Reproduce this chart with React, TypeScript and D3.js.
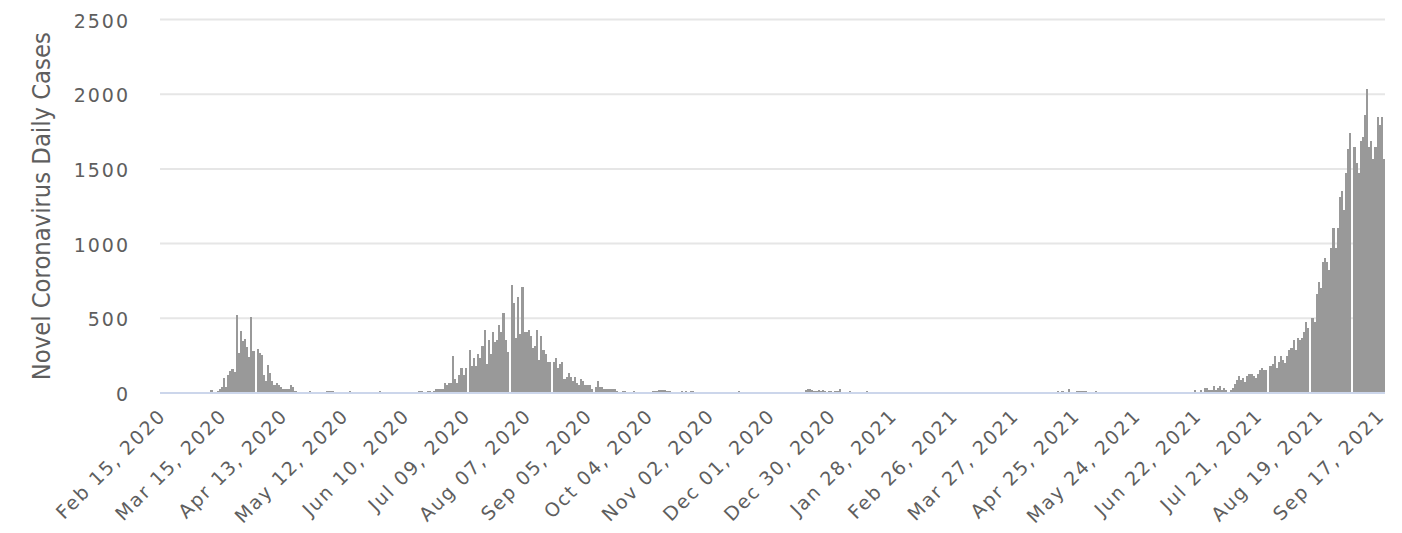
import React from "react";
import * as d3 from "d3";

const firstDay = "2020-02-15";
const lastDay = "2021-09-19";

const yTicks = [0, 500, 1000, 1500, 2000, 2500];
const xTickLabels = [
  "Feb 15, 2020", "Mar 15, 2020", "Apr 13, 2020", "May 12, 2020", "Jun 10, 2020",
  "Jul 09, 2020", "Aug 07, 2020", "Sep 05, 2020", "Oct 04, 2020", "Nov 02, 2020",
  "Dec 01, 2020", "Dec 30, 2020", "Jan 28, 2021", "Feb 26, 2021", "Mar 27, 2021",
  "Apr 25, 2021", "May 24, 2021", "Jun 22, 2021", "Jul 21, 2021", "Aug 19, 2021",
  "Sep 17, 2021",
];

// daily cases, every run starts on the date above it
const spring2020Start = "2020-03-10";
const spring2020 = [
  18, 0, 0, 15, 27, 42, 100, 42, 123, 150, 163, 140, 525, 270, 418, 350, 364, 310,
  243, 511, 284, 0, 297, 270, 257, 123, 83, 190, 136, 83, 56, 69, 56, 40, 27, 27,
  27, 27, 54, 40, 13,
];

const summer2020Start = "2020-06-17";
const summer2020 = [
  14, 14, 0, 0, 14, 14, 0, 14, 27, 27, 27, 27,
  68, 55, 68, 68, 247, 96, 68, 123, 164, 123, 164, 0,
  288, 178, 233, 178, 260, 233, 315, 425, 192, 356, 260, 411, 342, 356, 452, 411, 534, 356, 274, 0,
  726, 603, 370, 644, 397, 712,
  411, 411, 425, 384, 301, 315, 425, 219, 384, 288, 260, 205, 205, 0,
  205, 233, 164, 192, 205, 96, 110, 137, 110, 82, 110, 68, 55, 96, 82, 55, 55, 55, 27, 0,
  41, 82, 41, 41, 27, 27, 27, 27, 27, 27, 14, 0, 0, 14, 14, 0, 0, 0, 14,
];

const winter2020Start = "2020-12-18";
const winter2020 = [20, 29, 29, 20, 13, 13, 20, 13, 20, 13, 0, 13, 13, 0, 13, 13, 27];

const summer2021Start = "2021-06-21";
const summer2021 = [
  18, 0, 0, 18, 0, 32, 32, 18, 18, 45, 18, 32, 45, 18, 32, 18, 0, 18, 32, 59,
  86, 113, 86, 99, 72, 113, 127, 127, 113, 99, 127, 154, 167, 154, 154, 0,
  181, 194, 249, 167, 208, 245, 218, 204, 245, 285, 299, 352, 285, 366, 352, 366, 406, 474, 433, 0,
  501, 474, 662, 743, 703, 878, 905, 878, 824, 972, 1107, 972, 1107, 1309, 1349, 1228, 1470, 1632, 1740, 0,
  1646, 1538, 1470, 1686, 1713, 1861, 2036, 1646, 1686, 1565, 1646, 1848, 1794, 1848, 1565,
];

// lone small bars in the quiet months
const scattered: [string, number][] = [
  ["2020-04-26", 13], ["2020-05-04", 13], ["2020-05-05", 13], ["2020-05-06", 13],
  ["2020-05-07", 13], ["2020-05-15", 13], ["2020-05-29", 13],
  ["2020-10-06", 13], ["2020-10-07", 13], ["2020-10-08", 13], ["2020-10-09", 20],
  ["2020-10-10", 20], ["2020-10-11", 20], ["2020-10-12", 20], ["2020-10-13", 13],
  ["2020-10-14", 13], ["2020-10-20", 13], ["2020-10-22", 13], ["2020-10-24", 13],
  ["2020-10-25", 13], ["2020-11-16", 13], ["2021-01-08", 13], ["2021-01-16", 13],
  ["2021-04-17", 13], ["2021-04-19", 13], ["2021-04-22", 27], ["2021-04-26", 16],
  ["2021-04-27", 16], ["2021-04-28", 16], ["2021-04-29", 16], ["2021-04-30", 16],
  ["2021-05-05", 13],
];

const width = 1402;
const height = 533;
const margin = { top: 19.5, right: 17, bottom: 140, left: 160 };
const tickFont = "'DejaVu Sans', Verdana, sans-serif";

const App = () => {
  const parse = d3.timeParse("%Y-%m-%d");
  const start = parse(firstDay) as Date;
  const days = d3.timeDay.range(start, d3.timeDay.offset(parse(lastDay) as Date, 1));
  const cases = days.map(() => 0);

  const put = (from: string, values: number[]) => {
    const i0 = d3.timeDay.count(start, parse(from) as Date);
    values.forEach((v, k) => { cases[i0 + k] = v; });
  };
  put(spring2020Start, spring2020);
  put(summer2020Start, summer2020);
  put(winter2020Start, winter2020);
  put(summer2021Start, summer2021);
  scattered.forEach(([d, v]) => put(d, [v]));

  const x = d3.scaleBand<number>()
    .domain(d3.range(days.length))
    .range([margin.left, width - margin.right]);
  const y = d3.scaleLinear()
    .domain([0, 2500])
    .range([height - margin.bottom, margin.top]);

  const parseLabel = d3.timeParse("%b %d, %Y");
  const ticks = xTickLabels.map((t) => ({
    label: t,
    i: d3.timeDay.count(start, parseLabel(t) as Date),
  }));

  const x0 = margin.left;
  const x1 = width - margin.right;

  return (
    <div style={{ position: "absolute", left: 0, top: 0 }}>
      <svg width={width} height={height} style={{ display: "block", background: "#fff" }}>
        {yTicks.filter((t) => t > 0).map((t) => (
          <line key={t} x1={x0} x2={x1} y1={y(t)} y2={y(t)} stroke="#e6e6e6" strokeWidth={2} />
        ))}
        <g shapeRendering="crispEdges">
          {cases.map((c, i) => c > 0 && (
            <rect key={i} x={x(i)} width={x.bandwidth()} y={y(c)} height={y(0) - y(c)} fill="#999999" />
          ))}
        </g>
        <line x1={x0} x2={x1} y1={y(0)} y2={y(0)} stroke="#ccd6eb" strokeWidth={2} />

        {yTicks.map((t) => (
          <text key={t} x={130} y={y(t) + 8} textAnchor="end" fontFamily={tickFont}
            fontSize={19} letterSpacing={2} fill="#5e5e5e">{t}</text>
        ))}

        {ticks.map((t) => (
          <text key={t.label} textAnchor="end" fontFamily={tickFont} fontSize={19}
            letterSpacing={1.8} fill="#5e5e5e"
            transform={`translate(${(x(t.i) as number) + x.bandwidth() / 2 + 6}, 417) rotate(-45)`}>
            {t.label}
          </text>
        ))}

        <text transform={`translate(50, ${(y(0) + y(2500)) / 2}) rotate(-90)`} textAnchor="middle"
          fontFamily={tickFont} fontSize={24} textLength={348} lengthAdjust="spacingAndGlyphs"
          fill="#5e5e5e">Novel Coronavirus Daily Cases</text>
      </svg>
    </div>
  );
};

export default App;
